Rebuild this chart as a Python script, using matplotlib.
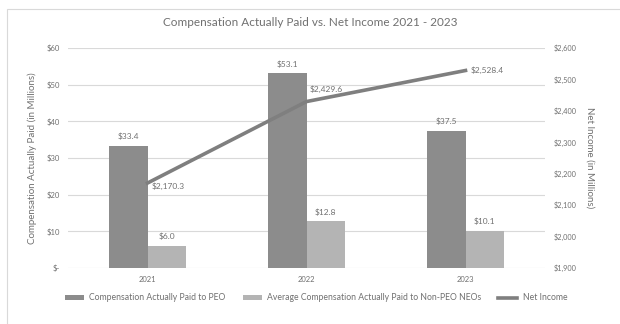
import matplotlib.pyplot as plt
from matplotlib.lines import Line2D
from matplotlib.patches import Patch, Rectangle
import numpy as np

years = ["2021", "2022", "2023"]
peo_paid = [33.4, 53.1, 37.5]
non_peo_paid = [6.0, 12.8, 10.1]
net_income = [2170.3, 2429.6, 2528.4]

left_ticks = [0, 10, 20, 30, 40, 50, 60]
left_labels = ["$-", "$10", "$20", "$30", "$40", "$50", "$60"]
right_ticks = [1900, 2000, 2100, 2200, 2300, 2400, 2500, 2600]

PEO_COLOR = "#8c8c8c"
NON_PEO_COLOR = "#b4b4b4"
LINE_COLOR = "#7f7f7f"
TEXT_COLOR = "#707070"

plt.rcParams["font.family"] = ["Lato", "DejaVu Sans"]

fig = plt.figure(figsize=(6.2, 3.24), dpi=100)
fig.patch.set_facecolor("white")

# light frame around the chart
fig.patches.append(
    Rectangle((7 / 620, -0.1), 1.2, 1 - 9 / 324 + 0.1, transform=fig.transFigure,
              fill=False, edgecolor="#d9d9d9", linewidth=0.8)
)

ax = fig.add_axes([68 / 620, 1 - 268 / 324, 477 / 620, 220 / 324])
ax2 = ax.twinx()

x = np.arange(len(years))
w = 0.24
b1 = ax.bar(x - w / 2, peo_paid, w, color=PEO_COLOR, zorder=3)
b2 = ax.bar(x + w / 2, non_peo_paid, w, color=NON_PEO_COLOR, zorder=3)

for bars, vals in [(b1, peo_paid), (b2, non_peo_paid)]:
    for rect, val in zip(bars, vals):
        ax.annotate(f"${val:.1f}", (rect.get_x() + rect.get_width() / 2, val),
                    xytext=(0, 4), textcoords="offset points", ha="center", va="bottom",
                    fontsize=6, color=TEXT_COLOR)

ax.set_xlim(-0.5, 2.5)
ax.set_ylim(0, 60)
ax.set_yticks(left_ticks)
ax.set_yticklabels(left_labels)
ax.set_xticks(x)
ax.set_xticklabels(years)
ax.yaxis.grid(True, color="#d9d9d9", linewidth=0.8, zorder=0)
ax.set_axisbelow(True)
for side in ["top", "right", "left", "bottom"]:
    ax.spines[side].set_visible(False)
    ax2.spines[side].set_visible(False)
ax.tick_params(axis="both", length=0, labelsize=5.5, colors=TEXT_COLOR, pad=6)
ax.set_ylabel("Compensation Actually Paid (in Millions)", fontsize=7, color=TEXT_COLOR)
ax.yaxis.set_label_coords(-0.065, 0.5)

ax2.plot(x, net_income, color=LINE_COLOR, linewidth=2.6, zorder=4)
ax2.set_ylim(1900, 2600)
ax2.set_yticks(right_ticks)
ax2.set_yticklabels([f"${v:,}" for v in right_ticks])
ax2.tick_params(axis="y", length=0, labelsize=5.3, colors=TEXT_COLOR, pad=6)
ax2.set_ylabel("Net Income (in Millions)", fontsize=7, color=TEXT_COLOR, rotation=270,
               va="center", ha="center")
ax2.yaxis.set_label_coords(1.095, 0.5)

offsets = [(3, -2), (2, 6), (4, 0)]
vas = ["center", "bottom", "center"]
for xi, val, off, va in zip(x, net_income, offsets, vas):
    ax2.annotate(f"${val:,.1f}", (xi, val), xytext=off, textcoords="offset points",
                 ha="left", va=va, fontsize=6, color=TEXT_COLOR, zorder=5)

fig.text(0.5, 1 - 22 / 324, "Compensation Actually Paid vs. Net Income 2021 - 2023",
         ha="center", va="center", fontsize=8.5, color=TEXT_COLOR)

handles = [
    Patch(facecolor=PEO_COLOR, label="Compensation Actually Paid to PEO"),
    Patch(facecolor=NON_PEO_COLOR, label="Average Compensation Actually Paid to Non-PEO NEOs"),
    Line2D([0], [0], color=LINE_COLOR, linewidth=2.6, label="Net Income"),
]
leg = fig.legend(handles=handles, loc="center", bbox_to_anchor=(0.51, 1 - 298 / 324), ncol=3,
                 frameon=False, fontsize=6.2, handlelength=2.2, handleheight=0.5,
                 columnspacing=2.0, handletextpad=0.6)
for t in leg.get_texts():
    t.set_color(TEXT_COLOR)

fig.savefig("out.png", dpi=100)
